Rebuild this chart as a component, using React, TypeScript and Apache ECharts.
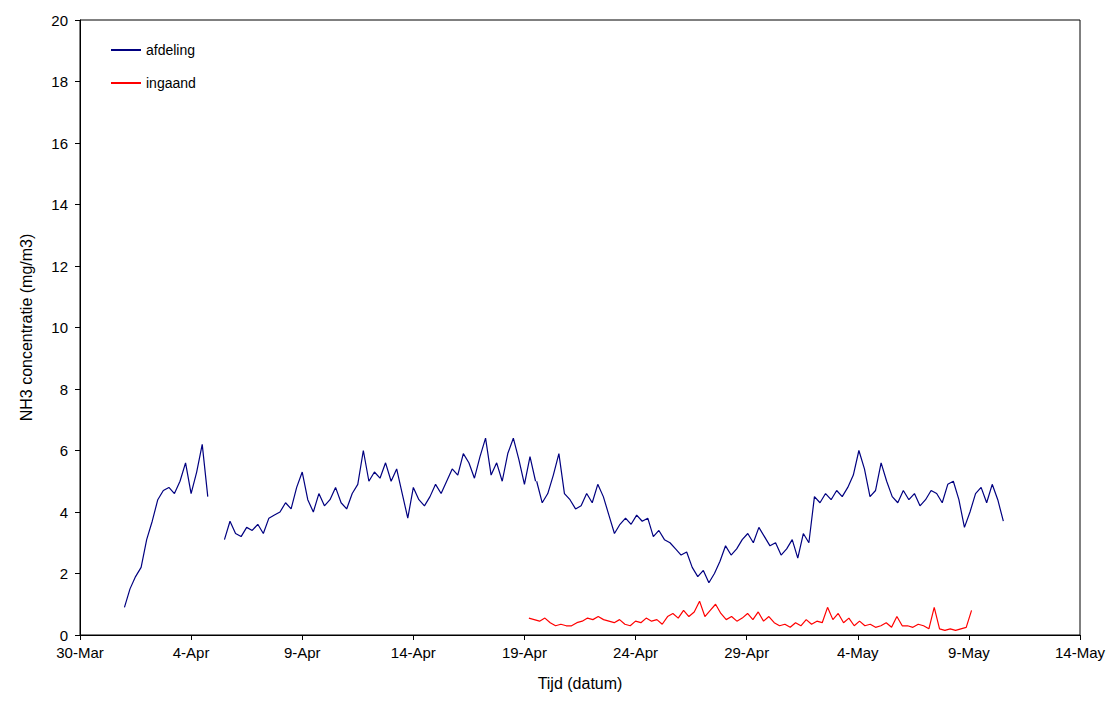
import React, { useEffect, useRef } from 'react';
import * as echarts from 'echarts';

// x values are days after 30-Mar
const xTickLabels = ['30-Mar', '4-Apr', '9-Apr', '14-Apr', '19-Apr', '24-Apr', '29-Apr', '4-May', '9-May', '14-May'];
const step = 0.25;

const afdeling1Start = 2.0;
const afdeling1 = [0.9, 1.5, 1.9, 2.2, 3.1, 3.7, 4.4, 4.7, 4.8, 4.6, 5.0, 5.6, 4.6, 5.3, 6.2, 4.5];

const afdeling2Start = 6.5;
const afdeling2 = [
  3.1, 3.7, 3.3, 3.2, 3.5, 3.4, 3.6, 3.3, 3.8,
  3.9, 4.0, 4.3, 4.1, 4.8, 5.3, 4.4, 4.0,
  4.6, 4.2, 4.4, 4.8, 4.3, 4.1, 4.6, 4.9,
  6.0, 5.0, 5.3, 5.1, 5.6, 5.0, 5.4, 4.6,
  3.8, 4.8, 4.4, 4.2, 4.5, 4.9, 4.6, 5.0,
  5.4, 5.2, 5.9, 5.6, 5.1, 5.8, 6.4, 5.2,
  5.6, 5.0, 5.9, 6.4, 5.7, 4.9, 5.8, 5.0,
];

const afdeling3Start = 20.55;
const afdeling3 = [
  5.0, 4.3, 4.6, 5.2, 5.9, 4.6, 4.4, 4.1,
  4.2, 4.6, 4.3, 4.9, 4.5, 3.9, 3.3, 3.6,
  3.8, 3.6, 3.9, 3.7, 3.8, 3.2, 3.4, 3.1,
  3.0, 2.8, 2.6, 2.7, 2.2, 1.9, 2.1, 1.7,
  2.0, 2.4, 2.9, 2.6, 2.8, 3.1, 3.3, 3.0,
  3.5, 3.2, 2.9, 3.0, 2.6, 2.8, 3.1, 2.5,
  3.3, 3.0, 4.5, 4.3, 4.6, 4.4, 4.7, 4.5,
  4.8, 5.2, 6.0, 5.4, 4.5, 4.7, 5.6, 5.0,
  4.5, 4.3, 4.7, 4.4, 4.6, 4.2, 4.4, 4.7,
  4.6, 4.3, 4.9, 5.0, 4.4, 3.5, 4.0, 4.6,
  4.8, 4.3, 4.9, 4.4, 3.7,
];

const ingaandStart = 20.2;
const ingaandStep = 0.24;
const ingaand = [
  0.55, 0.5, 0.45, 0.55, 0.4, 0.3, 0.35, 0.3,
  0.3, 0.4, 0.45, 0.55, 0.5, 0.6, 0.5, 0.45,
  0.4, 0.5, 0.35, 0.3, 0.45, 0.4, 0.55, 0.45,
  0.5, 0.35, 0.6, 0.7, 0.55, 0.8, 0.6, 0.75,
  1.1, 0.6, 0.8, 1.0, 0.7, 0.5, 0.6, 0.45,
  0.55, 0.7, 0.5, 0.75, 0.45, 0.6, 0.4, 0.3,
  0.35, 0.25, 0.4, 0.3, 0.5, 0.35, 0.45, 0.4,
  0.9, 0.5, 0.7, 0.4, 0.55, 0.3, 0.45, 0.3,
  0.35, 0.25, 0.3, 0.4, 0.25, 0.6, 0.3, 0.3,
  0.25, 0.35, 0.3, 0.2, 0.9, 0.2, 0.15, 0.2,
  0.15, 0.2, 0.25, 0.8,
];

const toPoints = (start: number, vals: number[], dt = step) => vals.map((v, i) => [start + i * dt, v]);

const afdelingData = [
  ...toPoints(afdeling1Start, afdeling1),
  [6.0, null],
  ...toPoints(afdeling2Start, afdeling2),
  [20.52, null],
  ...toPoints(afdeling3Start, afdeling3),
];

export default function App() {
  const chartRef = useRef<HTMLDivElement>(null);

  useEffect(() => {
    if (!chartRef.current) return;
    const chart = echarts.init(chartRef.current, null, { renderer: 'svg' });
    const font = 'Liberation Sans, Arial, sans-serif';
    chart.setOption({
      animation: false,
      textStyle: { fontFamily: font },
      grid: { left: 80, right: 40, top: 20, bottom: 76, show: true, borderColor: '#000', borderWidth: 1 },
      legend: {
        left: 106, top: 38, orient: 'vertical', itemGap: 19, itemWidth: 30, itemHeight: 2, icon: 'rect',
        textStyle: { fontSize: 14, color: '#000', fontFamily: font },
        data: ['afdeling', 'ingaand'],
      },
      xAxis: {
        type: 'value', min: 0, max: 45, interval: 5,
        name: 'Tijd (datum)', nameLocation: 'middle', nameGap: 40,
        nameTextStyle: { fontSize: 16, color: '#000', fontFamily: font },
        axisLine: { lineStyle: { color: '#000' } },
        axisTick: { lineStyle: { color: '#000' }, length: 5 },
        axisLabel: { color: '#000', fontSize: 15, margin: 10, formatter: (v: number) => xTickLabels[Math.round(v / 5)] ?? '' },
        splitLine: { show: false },
      },
      yAxis: {
        type: 'value', min: 0, max: 20, interval: 2,
        name: 'NH3 concentratie (mg/m3)', nameLocation: 'middle', nameGap: 46,
        nameTextStyle: { fontSize: 16, color: '#000', fontFamily: font },
        axisLine: { show: true, lineStyle: { color: '#000' } },
        axisTick: { show: true, lineStyle: { color: '#000' }, length: 5 },
        axisLabel: { color: '#000', fontSize: 15, margin: 12 },
        splitLine: { show: false },
      },
      series: [
        {
          name: 'afdeling', type: 'line', data: afdelingData, showSymbol: false, connectNulls: false,
          lineStyle: { color: '#000080', width: 1.2 }, itemStyle: { color: '#000080' },
        },
        {
          name: 'ingaand', type: 'line', data: toPoints(ingaandStart, ingaand, ingaandStep), showSymbol: false,
          lineStyle: { color: '#ff0000', width: 1.2 }, itemStyle: { color: '#ff0000' },
        },
      ],
    });
    return () => chart.dispose();
  }, []);

  return <div ref={chartRef} style={{ position: 'fixed', left: 0, top: 0, width: 1120, height: 711, background: '#fff' }} />;
}
